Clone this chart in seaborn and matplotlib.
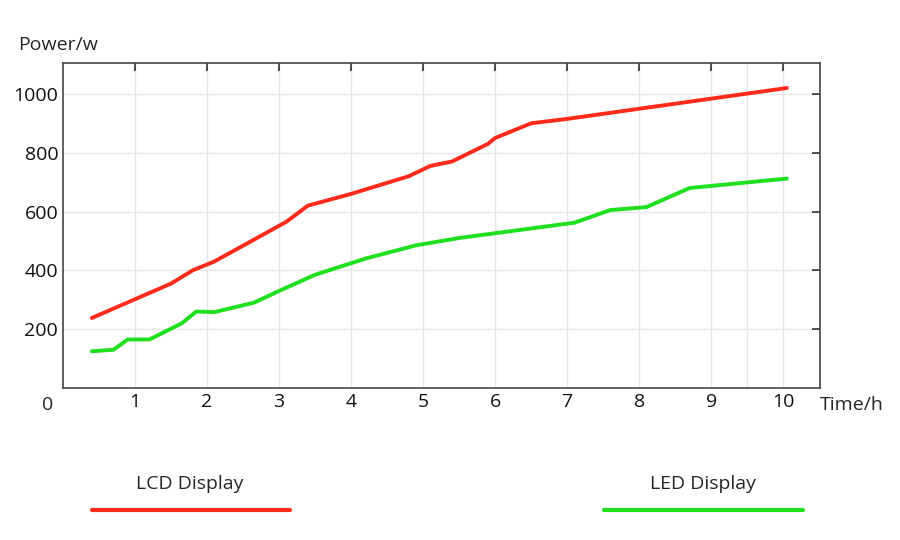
import matplotlib
matplotlib.use("Agg")
import matplotlib.pyplot as plt
import pandas as pd
import seaborn as sns
from matplotlib.lines import Line2D

sns.set_style("white")
plt.rcParams["font.family"] = ["Open Sans", "DejaVu Sans"]

lcd_time = [0.4, 1.5, 1.8, 2.1, 3.1, 3.4, 4.0, 4.8, 5.1, 5.4, 5.9, 6.0, 6.5, 7.0, 10.05]
lcd_power = [238, 355, 400, 430, 565, 620, 660, 720, 755, 770, 830, 850, 900, 915, 1020]
led_time = [0.4, 0.7, 0.9, 1.2, 1.65, 1.85, 2.1, 2.65, 3.0, 3.5, 4.2, 4.9, 5.5, 7.1, 7.6, 8.1, 8.7, 10.05]
led_power = [125, 130, 165, 165, 220, 260, 258, 290, 330, 385, 440, 485, 510, 562, 605, 615, 680, 712]
x_ticks = [1, 2, 3, 4, 5, 6, 7, 8, 9, 10]
y_ticks = [200, 400, 600, 800, 1000]

df = pd.concat([
    pd.DataFrame({"Time": lcd_time, "Power": lcd_power, "Series": "LCD Display"}),
    pd.DataFrame({"Time": led_time, "Power": led_power, "Series": "LED Display"}),
])
colors = {"LCD Display": "#ff2a1a", "LED Display": "#1ee01e"}

fig = plt.figure(figsize=(9, 5.4), dpi=100)
ax = fig.add_axes([63 / 900, 1 - 388 / 540, 757 / 900, 325 / 540])
sns.lineplot(data=df, x="Time", y="Power", hue="Series", palette=colors,
             linewidth=2.8, legend=False, ax=ax, sort=False,
             solid_joinstyle="round", solid_capstyle="round")
ax.set_xlim(0, 10.51)
ax.set_ylim(0, 1105)
ax.set_xticks(x_ticks)
ax.set_yticks(y_ticks)
for v in x_ticks + [9.5]:
    ax.axvline(v, color="#e6e6e6", lw=1, zorder=0)
for v in y_ticks:
    ax.axhline(v, color="#e6e6e6", lw=1, zorder=0)
ax.tick_params(direction="in", top=True, right=True, length=6, width=1.2,
               labelsize=14, colors="#333333", labelcolor="#111111")
for s in ax.spines.values():
    s.set_color("#444444")
    s.set_linewidth(1.2)
ax.set_xlabel("")
ax.set_ylabel("")
fig.text(48 / 900, 1 - 405 / 540, "0", fontsize=14, ha="center", va="center")
fig.text(820 / 900, 1 - 405 / 540, "Time/h", fontsize=14, ha="left", va="center")
fig.text(18 / 900, 1 - 45 / 540, "Power/w", fontsize=14, ha="left", va="center")

fig.text(190 / 900, 1 - 484 / 540, "LCD Display", fontsize=14, ha="center", va="center")
fig.text(703 / 900, 1 - 484 / 540, "LED Display", fontsize=14, ha="center", va="center")
fig.add_artist(Line2D([92 / 900, 290 / 900], [1 - 510 / 540] * 2, color=colors["LCD Display"], lw=3))
fig.add_artist(Line2D([604 / 900, 803 / 900], [1 - 510 / 540] * 2, color=colors["LED Display"], lw=3))

fig.savefig("out.png", dpi=100)
